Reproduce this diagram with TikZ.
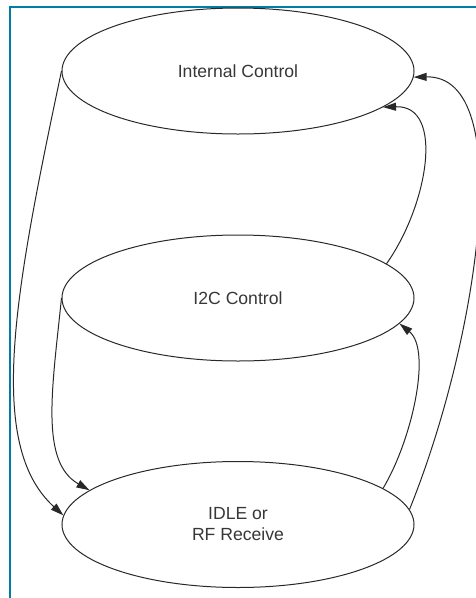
\documentclass[tikz,border=0pt]{standalone}
\usepackage{fontspec}
\setmainfont{Liberation Sans}
\usetikzlibrary{shapes.geometric,arrows.meta}
\definecolor{frameblue}{RGB}{0,125,165}
\definecolor{linegray}{RGB}{40,40,40}
\definecolor{textgray}{RGB}{55,55,55}
\tikzset{
  statebox/.style={ellipse, draw=linegray, line width=1pt, minimum width=352pt, minimum height=126pt, inner sep=0pt, align=center, text=textgray, font=\fontsize{17.6}{21}\selectfont},
  conn/.style={draw=linegray, line width=1pt, -{Triangle[length=13pt,width=8pt]}},
  framestyle/.style={draw=frameblue, line width=2pt}
}
\begin{document}
\begin{tikzpicture}[x=1pt,y=-1pt]
\useasboundingbox (0,0) rectangle (475,598);
\draw[framestyle] (476,7) -- (10,7) -- (10,599);
\node[statebox] (ic) at (238,71) {Internal Control};
\node[statebox] (i2c) at (238,298) {I2C Control};
\node[statebox] (idle) at (238,524.5) {IDLE or\\RF Receive};
\draw[conn] (ic.west) .. controls (14,295) and (-14,445) .. (idle.177);
\draw[conn] (i2c.west) .. controls (52,390) and (40,462) .. (idle.167);
\draw[conn] (i2c.13) .. controls (428,205) and (445,105) .. (ic.346);
\draw[conn] (idle.14) .. controls (412,440) and (432,350) .. (i2c.351);
\draw[conn] (idle.5) .. controls (478,340) and (518,75) .. (ic.358);
\end{tikzpicture}
\end{document}
